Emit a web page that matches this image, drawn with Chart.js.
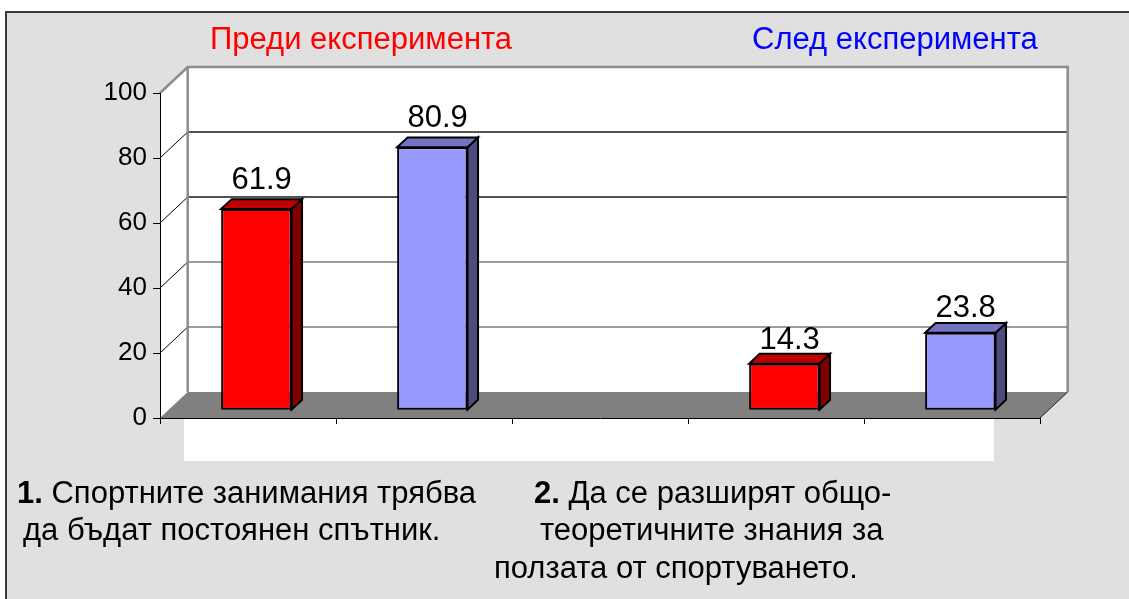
<!DOCTYPE html>
<html>
<head>
<meta charset="utf-8">
<script src="https://cdn.jsdelivr.net/npm/chart.js@4.4.1/dist/chart.umd.min.js"></script>
<style>
    html, body { margin: 0; padding: 0; background: #fff; }
    canvas { display: block; }
</style>
</head>
<body>
<canvas id="chart" width="1129" height="599"></canvas>
<script>
// chart data
const categories = ['1. Преди', '1. След', '', '2. Преди', '2. След'];
const beforeValues = [61.9, null, null, 14.3, null];
const afterValues = [null, 80.9, null, null, 23.8];
const seriesNames = ['Преди експеримента', 'След експеримента'];
const yMin = 0, yMax = 100, yStep = 20;

// captions under the chart
const note1 = ['1.', ' Спортните занимания трябва', 'да бъдат постоянен спътник.'];
const note2 = ['2.', ' Да се разширят общо-', 'теоретичните знания за', 'ползата от спортуването.'];

const FONT = "'Liberation Sans', Arial, sans-serif";
const DEPTH = { x: 27.7, y: -26 };   // floor / wall depth
const BAR_OFF = 0.3;                 // bar front face sits 30% into the depth
const BAR_DEPTH = 0.38;

const colors = {
    before: { front: '#ff0000', top: '#bf0000', side: '#800000' },
    after: { front: '#9999ff', top: '#7373bf', side: '#4c4c80' }
};

// background, frame, walls and floor
const wallsPlugin = {
    id: 'walls',
    beforeDraw(chart) {
        const { ctx, chartArea: a, scales: { y } } = chart;
        const bl = a.left + DEPTH.x, br = a.right + DEPTH.x;
        const bt = a.top + DEPTH.y, bb = a.bottom + DEPTH.y;
        ctx.save();
        ctx.fillStyle = '#fff';
        ctx.fillRect(0, 0, chart.width, chart.height);

        // grey chart area with dark frame
        ctx.fillStyle = '#e0e0e0';
        ctx.fillRect(6, 12, chart.width, chart.height);
        ctx.strokeStyle = '#3a3a3a';
        ctx.lineWidth = 2;
        ctx.beginPath();
        ctx.moveTo(6, chart.height);
        ctx.lineTo(6, 12);
        ctx.lineTo(chart.width, 12);
        ctx.stroke();

        // white plot area (only visible below the floor)
        ctx.fillStyle = '#fff';
        ctx.fillRect(184, bb, 810, 461 - bb);

        // back wall + left side wall
        ctx.fillRect(bl, bt, br - bl, bb - bt);
        ctx.beginPath();
        ctx.moveTo(a.left, a.top);
        ctx.lineTo(bl, bt);
        ctx.lineTo(bl, bb);
        ctx.lineTo(a.left, a.bottom);
        ctx.closePath();
        ctx.fill();

        // gridlines on the back wall and the side wall
        for (let v = yMin + yStep; v < yMax; v += yStep) {
            const py = y.getPixelForValue(v);
            ctx.strokeStyle = v >= 60 ? '#1a1a1a' : '#7a7a7a';
            ctx.lineWidth = 1.5;
            ctx.beginPath();
            ctx.moveTo(bl, py + DEPTH.y);
            ctx.lineTo(br, py + DEPTH.y);
            ctx.stroke();
            ctx.strokeStyle = '#000';
            ctx.lineWidth = 1;
            ctx.beginPath();
            ctx.moveTo(a.left, py);
            ctx.lineTo(bl, py + DEPTH.y);
            ctx.stroke();
        }

        // wall edges
        ctx.strokeStyle = '#8c8c8c';
        ctx.lineWidth = 2.5;
        ctx.beginPath();
        ctx.moveTo(a.left, a.top);
        ctx.lineTo(bl, bt);
        ctx.lineTo(br, bt);
        ctx.lineTo(br, bb);
        ctx.moveTo(bl, bt);
        ctx.lineTo(bl, bb);
        ctx.stroke();

        // floor
        ctx.fillStyle = '#808080';
        ctx.beginPath();
        ctx.moveTo(a.left, a.bottom);
        ctx.lineTo(a.right, a.bottom);
        ctx.lineTo(br, bb);
        ctx.lineTo(bl, bb);
        ctx.closePath();
        ctx.fill();
        ctx.strokeStyle = '#222';
        ctx.lineWidth = 1;
        ctx.beginPath();
        ctx.moveTo(a.right, a.bottom);
        ctx.lineTo(br, bb);
        ctx.stroke();
        ctx.restore();
    }
};

// 3D bars: shift the front face into the depth, then add top and side faces
const barsPlugin = {
    id: 'bars3d',
    beforeDatasetsDraw(chart) {
        chart.ctx.save();
        chart.ctx.translate(DEPTH.x * BAR_OFF, DEPTH.y * BAR_OFF);
    },
    afterDatasetsDraw(chart) {
        const ctx = chart.ctx;
        ctx.restore();
        const ox = DEPTH.x * BAR_OFF, oy = DEPTH.y * BAR_OFF;
        const dx = DEPTH.x * BAR_DEPTH, dy = DEPTH.y * BAR_DEPTH;
        ctx.save();
        ctx.lineWidth = 2;
        ctx.strokeStyle = '#000';
        ctx.lineJoin = 'miter';
        chart.data.datasets.forEach((ds, di) => {
            const pal = di === 0 ? colors.before : colors.after;
            chart.getDatasetMeta(di).data.forEach((el, i) => {
                const v = ds.data[i];
                if (v == null) return;
                const p = el.getProps(['x', 'y', 'base', 'width'], true);
                const l = p.x - p.width / 2 + ox, r = p.x + p.width / 2 + ox;
                const t = p.y + oy, b = p.base + oy;

                // side face
                ctx.fillStyle = pal.side;
                ctx.beginPath();
                ctx.moveTo(r, t);
                ctx.lineTo(r + dx, t + dy);
                ctx.lineTo(r + dx, b + dy);
                ctx.lineTo(r, b);
                ctx.closePath();
                ctx.fill();
                ctx.stroke();

                // top face
                ctx.fillStyle = pal.top;
                ctx.beginPath();
                ctx.moveTo(l, t);
                ctx.lineTo(l + dx, t + dy);
                ctx.lineTo(r + dx, t + dy);
                ctx.lineTo(r, t);
                ctx.closePath();
                ctx.fill();
                ctx.stroke();

                // value label
                ctx.fillStyle = '#000';
                ctx.font = `31px ${FONT}`;
                ctx.textAlign = 'center';
                ctx.textBaseline = 'alphabetic';
                const gap = Math.min(3 + 0.13 * v, 10.5);
                ctx.fillText(String(v), (l + r) / 2 + dx / 2, t + dy - gap);
            });
        });
        ctx.restore();
    }
};

// legend texts and captions
const textPlugin = {
    id: 'texts',
    afterDraw(chart) {
        const ctx = chart.ctx;
        ctx.save();
        ctx.textBaseline = 'alphabetic';
        ctx.textAlign = 'left';
        ctx.font = `31px ${FONT}`;
        ctx.fillStyle = colors.before.front;
        ctx.fillText(seriesNames[0], 210, 49);
        ctx.fillStyle = '#0000ff';
        ctx.fillText(seriesNames[1], 752, 49);

        ctx.fillStyle = '#000';
        const boldLead = (lead, rest, x, yy) => {
            ctx.font = `bold 31px ${FONT}`;
            ctx.fillText(lead, x, yy);
            const w = ctx.measureText(lead).width;
            ctx.font = `31px ${FONT}`;
            ctx.fillText(rest, x + w, yy);
        };
        boldLead(note1[0], note1[1], 17, 503);
        ctx.fillText(note1[2], 23, 540);
        boldLead(note2[0], note2[1], 534, 503);
        ctx.fillText(note2[2], 540, 540);
        ctx.fillText(note2[3], 494, 578);
        ctx.restore();
    }
};

new Chart(document.getElementById('chart'), {
    type: 'bar',
    data: {
        labels: categories,
        datasets: [
            {
                label: seriesNames[0],
                data: beforeValues,
                backgroundColor: colors.before.front,
                borderColor: '#000',
                borderWidth: 2,
                borderSkipped: false
            },
            {
                label: seriesNames[1],
                data: afterValues,
                backgroundColor: colors.after.front,
                borderColor: '#000',
                borderWidth: 2,
                borderSkipped: false
            }
        ]
    },
    options: {
        responsive: false,
        animation: false,
        events: [],
        grouped: false,
        categoryPercentage: 1,
        barPercentage: 0.4,
        clip: false,
        layout: { padding: { left: 100, right: 89, top: 93, bottom: 0 } },
        plugins: {
            legend: { display: false },
            tooltip: { enabled: false }
        },
        scales: {
            x: {
                ticks: { display: false },
                grid: { offset: true, drawOnChartArea: false, tickLength: 6, color: '#000' },
                border: { color: '#000', width: 1 },
                afterFit: (s) => { s.height = 181; }
            },
            y: {
                min: yMin,
                max: yMax,
                ticks: {
                    stepSize: yStep,
                    color: '#000',
                    padding: 6,
                    font: { family: FONT, size: 26 }
                },
                grid: { drawOnChartArea: false, tickLength: 7, color: '#000' },
                border: { color: '#000', width: 1 },
                afterFit: (s) => { s.width = 60; }
            }
        }
    },
    plugins: [wallsPlugin, barsPlugin, textPlugin]
});
</script>
</body>
</html>
